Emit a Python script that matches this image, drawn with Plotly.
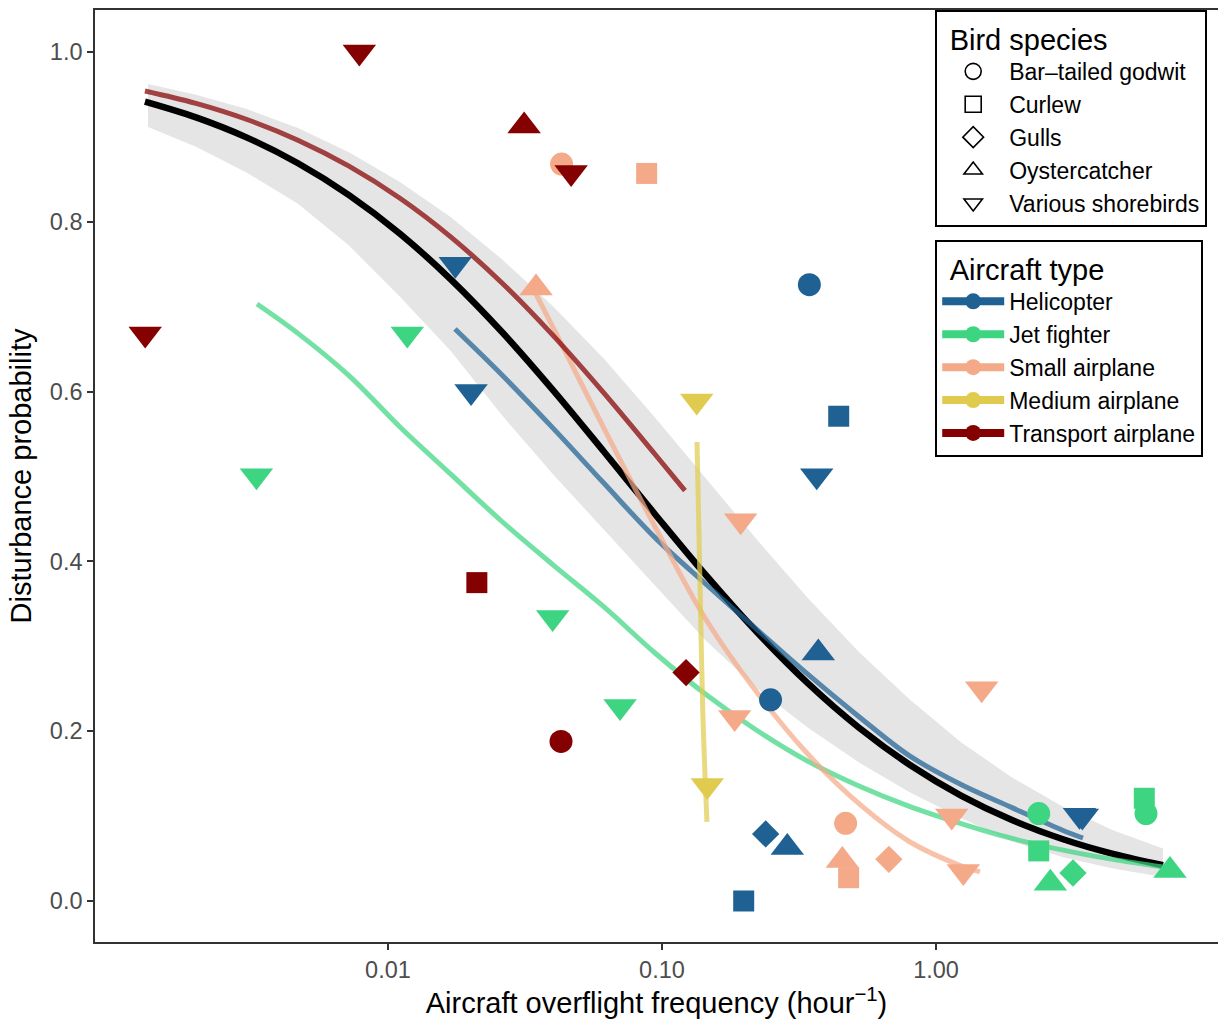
import plotly.graph_objects as go

# ---------------- data ----------------
GODWIT = "Bar\u2013tailed godwit"
CURLEW = "Curlew"
GULLS = "Gulls"
OYSTER = "Oystercatcher"
VARIOUS = "Various shorebirds"
species_order = [GODWIT, CURLEW, GULLS, OYSTER, VARIOUS]
aircraft_order = ["Helicopter", "Jet fighter", "Small airplane", "Medium airplane", "Transport airplane"]

heli_freq = [0.0176, 0.0201, 0.345, 0.4415, 0.367, 0.372, 0.249, 0.239, 0.2866, 0.1987, 3.34, 3.42]
heli_prob = [0.750, 0.600, 0.726, 0.571, 0.501, 0.292, 0.237, 0.079, 0.063, 0.0, 0.101, 0.100]
heli_species = [VARIOUS, VARIOUS, GODWIT, CURLEW, VARIOUS, OYSTER, GODWIT, GULLS, OYSTER, CURLEW, VARIOUS, VARIOUS]

jet_freq = [0.00331, 0.01176, 0.0399, 0.0703, 2.371, 2.371, 2.614, 3.162, 5.757, 5.840, 7.145]
jet_prob = [0.501, 0.668, 0.334, 0.229, 0.103, 0.059, 0.021, 0.033, 0.121, 0.103, 0.036]
jet_species = [VARIOUS, VARIOUS, VARIOUS, VARIOUS, GODWIT, CURLEW, OYSTER, GULLS, CURLEW, GODWIT, OYSTER]

small_freq = [0.0430, 0.0879, 0.0347, 0.1937, 0.1842, 0.468, 0.455, 0.480, 0.673, 1.468, 1.141, 1.258]
small_prob = [0.868, 0.857, 0.722, 0.448, 0.216, 0.0915, 0.0476, 0.0274, 0.0491, 0.250, 0.100, 0.0346]
small_species = [GODWIT, CURLEW, OYSTER, VARIOUS, VARIOUS, GODWIT, OYSTER, CURLEW, GULLS, VARIOUS, VARIOUS, VARIOUS]

medium_freq = [0.1339, 0.1463]
medium_prob = [0.589, 0.136]
medium_species = [VARIOUS, VARIOUS]

transport_freq = [0.0013, 0.00786, 0.0314, 0.0466, 0.0211, 0.1224, 0.0428]
transport_prob = [0.668, 1.0, 0.913, 0.858, 0.375, 0.269, 0.188]
transport_species = [VARIOUS, VARIOUS, OYSTER, VARIOUS, CURLEW, GULLS, GODWIT]

# fitted curves at roughly even steps along the x axis
overall_freq = [0.001297, 0.001992, 0.003058, 0.004693, 0.007205, 0.01106, 0.01698, 0.02607, 0.04001, 0.06142,
                0.0943, 0.1447, 0.2222, 0.3411, 0.5236, 0.8038, 1.234, 1.894, 2.908, 4.426, 6.737]
overall_prob = [0.9416, 0.9230, 0.8992, 0.8690, 0.8315, 0.7860, 0.7320, 0.6702, 0.6018, 0.5292,
                0.4556, 0.3837, 0.3165, 0.2562, 0.2040, 0.1602, 0.1242, 0.0954, 0.0727, 0.0555, 0.0421]

ci_freq = [0.001331, 0.001992, 0.003058, 0.004693, 0.007205, 0.01106, 0.01698, 0.02607, 0.04001, 0.06142,
           0.0943, 0.1447, 0.2222, 0.3411, 0.5236, 0.8038, 1.234, 1.894, 2.908, 4.426, 6.737]
ci_upper = [0.9623, 0.9498, 0.9328, 0.9105, 0.8818, 0.8468, 0.8053, 0.7558, 0.7006, 0.6388,
            0.5695, 0.4975, 0.4256, 0.3566, 0.2932, 0.2369, 0.1869, 0.1455, 0.1111, 0.0832, 0.0618]
ci_lower = [0.9117, 0.8883, 0.8579, 0.8214, 0.7721, 0.7116, 0.6475, 0.5722, 0.5027, 0.4378,
            0.3717, 0.3064, 0.2503, 0.2041, 0.1630, 0.1277, 0.0978, 0.0702, 0.0514, 0.0382, 0.0283]

heli_fit_freq = [0.01756, 0.02607, 0.04001, 0.06142, 0.0943, 0.1447, 0.2222, 0.3411, 0.5236, 0.8038,
                 1.234, 1.894, 2.908, 3.440]
heli_fit_prob = [0.6737, 0.6196, 0.5570, 0.4920, 0.4280, 0.3731, 0.3197, 0.2669, 0.2171, 0.1706,
                 0.1372, 0.1100, 0.0831, 0.0742]

jet_fit_freq = [0.003326, 0.004693, 0.007205, 0.01106, 0.01698, 0.02607, 0.04001, 0.06142, 0.0943, 0.1447,
                0.2222, 0.3411, 0.5236, 0.8038, 1.234, 1.894, 2.908, 4.426, 6.737]
jet_fit_prob = [0.7032, 0.6686, 0.6189, 0.5583, 0.5025, 0.4470, 0.3960, 0.3464, 0.2921, 0.2432,
                0.2008, 0.1645, 0.1354, 0.1111, 0.0912, 0.0737, 0.0599, 0.0490, 0.0400]

small_fit_freq = [0.0344, 0.04001, 0.06142, 0.0943, 0.1447, 0.2222, 0.3411, 0.5236, 0.8038, 1.234, 1.447]
small_fit_prob = [0.7173, 0.6757, 0.5568, 0.4410, 0.3316, 0.2456, 0.1728, 0.1146, 0.0695, 0.0414, 0.0342]

medium_fit_freq = [0.1342, 0.1359, 0.1376, 0.1411, 0.1459]
medium_fit_prob = [0.5406, 0.46, 0.3746, 0.2167, 0.0931]

transport_fit_freq = [0.001297, 0.001992, 0.003058, 0.004693, 0.007205, 0.01106, 0.01698, 0.02607, 0.04001,
                      0.06142, 0.0943, 0.1213]
transport_fit_prob = [0.9541, 0.9395, 0.9205, 0.8962, 0.8656, 0.8278, 0.7820, 0.7279, 0.6662,
                      0.5982, 0.5262, 0.4833]

x_tick_vals = [0.01, 0.1, 1.0]
x_tick_text = ["0.01", "0.10", "1.00"]
y_tick_vals = [0.0, 0.2, 0.4, 0.6, 0.8, 1.0]
y_tick_text = ["0.0", "0.2", "0.4", "0.6", "0.8", "1.0"]

# ---------------- styles ----------------
FONT = "Liberation Sans, Arial, Helvetica, sans-serif"
colors = {
    "Helicopter": "#1F6193",
    "Jet fighter": "#3DD581",
    "Small airplane": "#F4AA88",
    "Medium airplane": "#E0CB4F",
    "Transport airplane": "#850000",
}
line_colors = {
    "Helicopter": "rgba(31,97,147,0.72)",
    "Jet fighter": "rgba(61,213,129,0.72)",
    "Small airplane": "rgba(244,170,136,0.72)",
    "Medium airplane": "rgba(224,203,79,0.72)",
    "Transport airplane": "rgba(133,0,0,0.72)",
}
symbols = {GODWIT: "circle", CURLEW: "square", GULLS: "diamond", OYSTER: "triangle-up", VARIOUS: "triangle-down"}
sizes = {GODWIT: 23, CURLEW: 21, GULLS: 21, OYSTER: 29, VARIOUS: 29}

points = {
    "Helicopter": (heli_freq, heli_prob, heli_species),
    "Jet fighter": (jet_freq, jet_prob, jet_species),
    "Small airplane": (small_freq, small_prob, small_species),
    "Medium airplane": (medium_freq, medium_prob, medium_species),
    "Transport airplane": (transport_freq, transport_prob, transport_species),
}
fits = {
    "Helicopter": (heli_fit_freq, heli_fit_prob),
    "Jet fighter": (jet_fit_freq, jet_fit_prob),
    "Small airplane": (small_fit_freq, small_fit_prob),
    "Medium airplane": (medium_fit_freq, medium_fit_prob),
    "Transport airplane": (transport_fit_freq, transport_fit_prob),
}

fig = go.Figure()

# confidence ribbon
fig.add_trace(go.Scatter(
    x=ci_freq + ci_freq[::-1],
    y=ci_upper + ci_lower[::-1],
    fill="toself", fillcolor="#E5E5E5", line=dict(width=0),
    mode="lines", showlegend=False, hoverinfo="skip"))

# overall fit
fig.add_trace(go.Scatter(x=overall_freq, y=overall_prob, mode="lines",
                         line=dict(color="black", width=6.5, shape="spline", smoothing=1.0),
                         showlegend=False))

# aircraft-specific fits
for a in aircraft_order:
    fx, fy = fits[a]
    fig.add_trace(go.Scatter(x=fx, y=fy, mode="lines",
                             line=dict(color=line_colors[a], width=5, shape="spline", smoothing=1.0),
                             showlegend=False))

# points
for a in aircraft_order:
    px, py, ps = points[a]
    fig.add_trace(go.Scatter(
        x=px, y=py, mode="markers", showlegend=False,
        marker=dict(color=colors[a], opacity=1, symbol=[symbols[s] for s in ps],
                    size=[sizes[s] for s in ps], line=dict(width=0))))

# legend: bird species (shapes)
for s in species_order:
    fig.add_trace(go.Scatter(
        x=[None], y=[None], mode="markers", name=s, legend="legend",
        marker=dict(symbol=symbols[s] + "-open", color="black", size=20, line=dict(width=1.6, color="black"))))

# legend: aircraft type (colours)
for a in aircraft_order:
    fig.add_trace(go.Scatter(
        x=[None], y=[None], mode="lines+markers", name=a, legend="legend2",
        line=dict(color=colors[a], width=8),
        marker=dict(symbol="circle", color=colors[a], size=20)))

W, H = 1218, 1021
L, R, T, B = 95, 0, 10, 79
plot_w = W - L - R
plot_h = H - T - B

axis_common = dict(
    showline=True, mirror=True, linecolor="#333333", linewidth=1.6,
    ticks="outside", ticklen=6, tickwidth=1.6, tickcolor="#333333",
    showgrid=False, zeroline=False,
    tickfont=dict(family=FONT, size=23.5, color="#4D4D4D"),
)

legend_common = dict(
    font=dict(family=FONT, size=23, color="black"),
    xanchor="left", x=(935 - L) / plot_w, yanchor="top",
    bordercolor="black", borderwidth=2.2, bgcolor="white", itemwidth=62, tracegroupgap=0,
)

fig.update_layout(
    width=W, height=H,
    margin=dict(l=L, r=R, t=T, b=B, autoexpand=False),
    paper_bgcolor="white", plot_bgcolor="white",
    font=dict(family=FONT, color="black"),
    xaxis=dict(type="log", range=[-3.0693, 1.0292], tickvals=x_tick_vals, ticktext=x_tick_text,
               title=dict(text="Aircraft overflight frequency (hour<sup>\u22121</sup>)",
                          font=dict(family=FONT, size=29, color="black"), standoff=8),
               **axis_common),
    yaxis=dict(range=[-0.0483, 1.0495], tickvals=y_tick_vals, ticktext=y_tick_text,
               title=dict(text="Disturbance probability",
                          font=dict(family=FONT, size=29, color="black"), standoff=10),
               **axis_common),
    legend=dict(title=dict(text="\u00a0\u200aBird species", font=dict(family=FONT, size=29, color="black")),
                y=1.0, **legend_common),
    legend2=dict(title=dict(text="\u00a0\u200aAircraft type", font=dict(family=FONT, size=29, color="black")),
                 y=(H - B - 240) / plot_h, **legend_common),
)

fig.write_html("out.html")
